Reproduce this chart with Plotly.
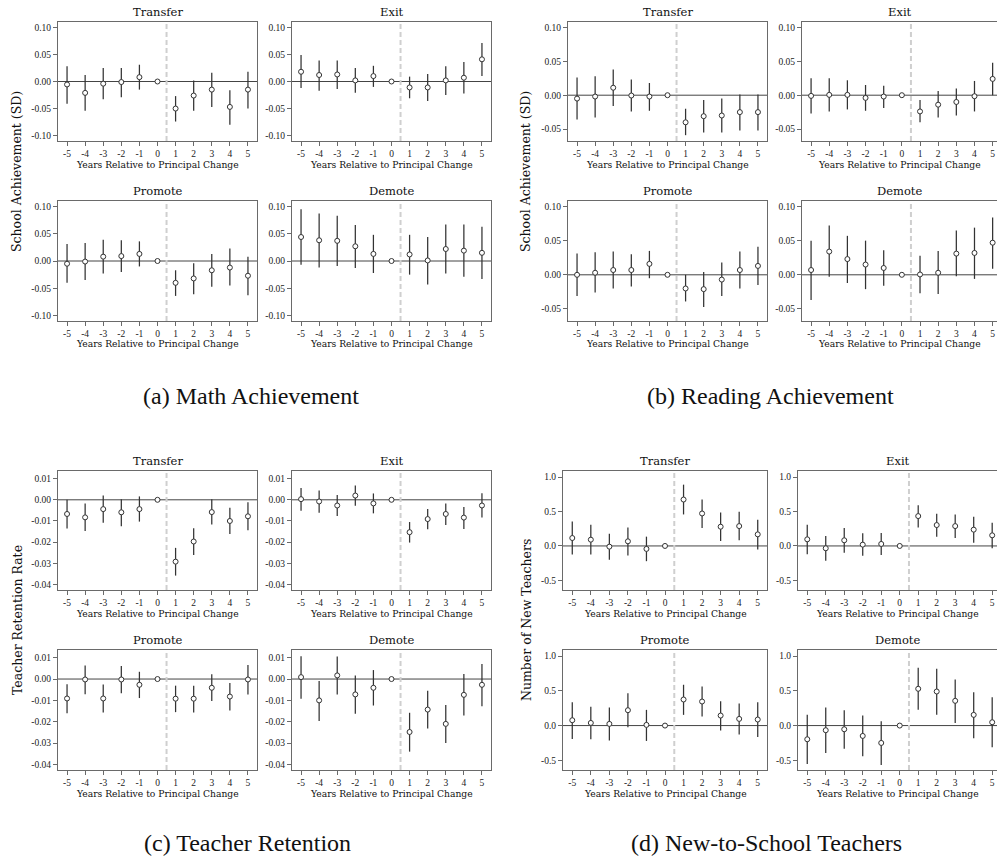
import plotly.graph_objects as go

W, H = 997, 862
years = [-5, -4, -3, -2, -1, 0, 1, 2, 3, 4, 5]
year_labels = [str(y) for y in years]

# ---------------- (a) Math achievement ----------------
math_transfer_est = [-0.0055, -0.021, -0.004, -0.001, 0.008, 0.0, -0.050, -0.026, -0.015, -0.047, -0.015]
math_transfer_hi = [0.028, 0.012, 0.025, 0.025, 0.031, 0.0, -0.027, 0.002, 0.016, -0.016, 0.018]
math_transfer_lo = [-0.041, -0.054, -0.033, -0.029, -0.015, 0.0, -0.074, -0.054, -0.047, -0.080, -0.050]

math_exit_est = [0.018, 0.012, 0.013, 0.002, 0.010, 0.0, -0.011, -0.011, 0.002, 0.007, 0.041]
math_exit_hi = [0.049, 0.039, 0.039, 0.025, 0.029, 0.0, 0.009, 0.014, 0.028, 0.036, 0.071]
math_exit_lo = [-0.012, -0.017, -0.014, -0.021, -0.010, 0.0, -0.031, -0.036, -0.025, -0.022, 0.010]

math_promote_est = [-0.005, -0.001, 0.008, 0.009, 0.013, 0.0, -0.040, -0.032, -0.017, -0.012, -0.027]
math_promote_hi = [0.031, 0.033, 0.039, 0.038, 0.036, 0.0, -0.017, -0.004, 0.013, 0.023, 0.008]
math_promote_lo = [-0.040, -0.035, -0.023, -0.020, -0.010, 0.0, -0.064, -0.061, -0.047, -0.045, -0.063]

math_demote_est = [0.044, 0.038, 0.037, 0.027, 0.013, 0.0, 0.012, 0.001, 0.022, 0.019, 0.015]
math_demote_hi = [0.095, 0.087, 0.083, 0.066, 0.048, 0.0, 0.048, 0.044, 0.067, 0.067, 0.063]
math_demote_lo = [-0.007, -0.012, -0.009, -0.013, -0.022, 0.0, -0.025, -0.043, -0.023, -0.029, -0.033]

# ---------------- (b) Reading achievement ----------------
read_transfer_est = [-0.005, -0.002, 0.011, -0.0005, -0.002, 0.0, -0.040, -0.031, -0.030, -0.025, -0.025]
read_transfer_hi = [0.026, 0.028, 0.038, 0.023, 0.018, 0.0, -0.020, -0.007, -0.005, 0.001, 0.001]
read_transfer_lo = [-0.036, -0.033, -0.016, -0.024, -0.023, 0.0, -0.059, -0.055, -0.055, -0.052, -0.052]

read_exit_est = [-0.001, 0.0005, 0.0005, -0.004, -0.002, 0.0, -0.024, -0.014, -0.010, -0.0015, 0.024]
read_exit_hi = [0.025, 0.025, 0.022, 0.015, 0.014, 0.0, -0.007, 0.006, 0.010, 0.021, 0.048]
read_exit_lo = [-0.027, -0.024, -0.021, -0.023, -0.019, 0.0, -0.040, -0.033, -0.030, -0.024, 0.000]

read_promote_est = [0.000, 0.003, 0.007, 0.007, 0.016, 0.0, -0.020, -0.021, -0.007, 0.007, 0.013]
read_promote_hi = [0.031, 0.033, 0.034, 0.030, 0.035, 0.0, 0.000, 0.004, 0.018, 0.034, 0.041]
read_promote_lo = [-0.031, -0.026, -0.020, -0.017, -0.005, 0.0, -0.039, -0.047, -0.031, -0.020, -0.015]

read_demote_est = [0.007, 0.034, 0.023, 0.015, 0.010, 0.0, 0.0005, 0.003, 0.031, 0.032, 0.047]
read_demote_hi = [0.050, 0.072, 0.057, 0.050, 0.036, 0.0, 0.028, 0.035, 0.065, 0.069, 0.084]
read_demote_lo = [-0.037, -0.003, -0.012, -0.021, -0.016, 0.0, -0.027, -0.028, -0.002, -0.006, 0.009]

# ---------------- (c) Teacher retention ----------------
ret_transfer_est = [-0.0067, -0.0083, -0.0044, -0.0059, -0.0044, 0.0, -0.0292, -0.0197, -0.0058, -0.0100, -0.0078]
ret_transfer_hi = [0.0000, -0.0017, 0.0020, 0.0003, 0.0016, 0.0, -0.0227, -0.0134, 0.0003, -0.0037, -0.0012]
ret_transfer_lo = [-0.0136, -0.0147, -0.0108, -0.0125, -0.0103, 0.0, -0.0358, -0.0261, -0.0117, -0.0161, -0.0144]

ret_exit_est = [0.0003, -0.0008, -0.0027, 0.0020, -0.0017, 0.0, -0.0153, -0.0091, -0.0067, -0.0084, -0.0027]
ret_exit_hi = [0.0056, 0.0044, 0.0023, 0.0067, 0.0030, 0.0, -0.0105, -0.0044, -0.0017, -0.0034, 0.0031]
ret_exit_lo = [-0.0052, -0.0061, -0.0077, -0.0028, -0.0064, 0.0, -0.0202, -0.0139, -0.0119, -0.0138, -0.0084]

ret_promote_est = [-0.0091, -0.0002, -0.0091, -0.0002, -0.0027, 0.0, -0.0092, -0.0092, -0.0041, -0.0082, -0.0002]
ret_promote_hi = [-0.0024, 0.0063, -0.0025, 0.0061, 0.0034, 0.0, -0.0031, -0.0031, 0.0022, -0.0019, 0.0066]
ret_promote_lo = [-0.0160, -0.0071, -0.0157, -0.0067, -0.0089, 0.0, -0.0155, -0.0157, -0.0103, -0.0147, -0.0072]

ret_demote_est = [0.0009, -0.0100, 0.0017, -0.0072, -0.0041, 0.0, -0.0248, -0.0143, -0.0210, -0.0074, -0.0027]
ret_demote_hi = [0.0107, -0.0009, 0.0105, 0.0016, 0.0042, 0.0, -0.0158, -0.0055, -0.0122, 0.0024, 0.0071]
ret_demote_lo = [-0.0092, -0.0196, -0.0072, -0.0163, -0.0124, 0.0, -0.0340, -0.0232, -0.0299, -0.0171, -0.0127]

# ---------------- (d) New-to-school teachers ----------------
new_transfer_est = [0.115, 0.091, -0.010, 0.067, -0.043, 0.0, 0.673, 0.471, 0.279, 0.288, 0.168]
new_transfer_hi = [0.356, 0.308, 0.178, 0.269, 0.135, 0.0, 0.889, 0.673, 0.486, 0.495, 0.380]
new_transfer_lo = [-0.125, -0.125, -0.202, -0.139, -0.221, 0.0, 0.457, 0.260, 0.072, 0.082, -0.053]

new_exit_est = [0.096, -0.034, 0.082, 0.019, 0.029, 0.0, 0.433, 0.303, 0.288, 0.236, 0.154]
new_exit_hi = [0.308, 0.144, 0.260, 0.183, 0.188, 0.0, 0.591, 0.466, 0.457, 0.423, 0.337]
new_exit_lo = [-0.120, -0.216, -0.100, -0.144, -0.130, 0.0, 0.269, 0.135, 0.115, 0.048, -0.034]

new_promote_est = [0.077, 0.038, 0.024, 0.221, 0.010, 0.0, 0.375, 0.346, 0.144, 0.096, 0.087]
new_promote_hi = [0.337, 0.269, 0.260, 0.466, 0.226, 0.0, 0.587, 0.563, 0.351, 0.317, 0.337]
new_promote_lo = [-0.192, -0.197, -0.216, -0.024, -0.221, 0.0, 0.154, 0.130, -0.072, -0.130, -0.163]

new_demote_est = [-0.197, -0.067, -0.053, -0.149, -0.250, 0.0, 0.529, 0.490, 0.356, 0.154, 0.048]
new_demote_hi = [0.154, 0.260, 0.221, 0.144, 0.063, 0.0, 0.832, 0.817, 0.663, 0.481, 0.409]
new_demote_lo = [-0.553, -0.394, -0.332, -0.442, -0.567, 0.0, 0.226, 0.154, 0.038, -0.183, -0.313]

# y-axis settings for each outcome
ach_math_ticks = [-0.10, -0.05, 0.0, 0.05, 0.10]
ach_math_labels = ["-0.10", "-0.05", "0.00", "0.05", "0.10"]
ach_read_ticks = [-0.05, 0.0, 0.05, 0.10]
ach_read_labels = ["-0.05", "0.00", "0.05", "0.10"]
ret_ticks = [-0.04, -0.03, -0.02, -0.01, 0.0, 0.01]
ret_labels = ["-0.04", "-0.03", "-0.02", "-0.01", "0.00", "0.01"]
new_ticks = [-0.5, 0.0, 0.5, 1.0]
new_labels = ["-0.5", "0.0", "0.5", "1.0"]

SERIF = "DejaVu Serif"
TICKFONT = dict(family="Liberation Serif", size=9.5, color="#222")
INK = "#333333"
FRAME = "#6a6a6a"

fig = go.Figure()
shapes = []
annotations = []
layout_axes = {}


def xdom(x0, x1):
    return [x0 / W, x1 / W]


def ydom(y0, y1):
    return [1 - y1 / H, 1 - y0 / H]


def add_panel(i, title, px, py, xrng, yrng, yticks, ylabels, est, hi, lo, right_frame=True):
    xa = "x" if i == 1 else f"x{i}"
    ya = "y" if i == 1 else f"y{i}"
    fig.add_trace(go.Scatter(
        x=years, y=est, mode="markers", showlegend=False, xaxis=xa, yaxis=ya,
        marker=dict(symbol="circle", size=5, color="white", line=dict(color=INK, width=1)),
        error_y=dict(type="data", symmetric=False,
                     array=[h - e for h, e in zip(hi, est)],
                     arrayminus=[e - l for e, l in zip(est, lo)],
                     color=INK, thickness=1.25, width=0),
        cliponaxis=False,
    ))
    layout_axes["xaxis" if i == 1 else f"xaxis{i}"] = dict(
        domain=xdom(*px), range=xrng, anchor=ya, tickvals=years, ticktext=year_labels,
        ticks="outside", ticklen=4, tickcolor=FRAME, tickwidth=1, tickfont=TICKFONT,
        showline=True, linecolor=FRAME, linewidth=1, mirror=True,
        showgrid=False, zeroline=False, fixedrange=True,
    )
    layout_axes["yaxis" if i == 1 else f"yaxis{i}"] = dict(
        domain=ydom(*py), range=yrng, anchor=xa, tickvals=yticks, ticktext=ylabels,
        ticks="outside", ticklen=4, tickcolor=FRAME, tickwidth=1, tickfont=TICKFONT,
        showline=True, linecolor=FRAME, linewidth=1, mirror=right_frame,
        showgrid=False, zeroline=False, fixedrange=True,
    )
    # zero reference line
    shapes.append(dict(type="line", xref=f"{xa} domain", yref=ya, x0=0, x1=1, y0=0, y1=0,
                       line=dict(color="#444444", width=1), layer="below"))
    # principal change marker between year 0 and year 1
    shapes.append(dict(type="line", xref=xa, yref=f"{ya} domain", x0=0.5, x1=0.5, y0=0, y1=1,
                       line=dict(color="#cfcfcf", width=2, dash="5px,3px"), layer="below"))
    cx = (px[0] + px[1]) / 2 / W
    annotations.append(dict(text=title, x=cx, y=1 - (py[0] - 10) / H, xref="paper", yref="paper",
                            xanchor="center", yanchor="middle", showarrow=False,
                            font=dict(family=SERIF, size=11.5, color="#111")))
    annotations.append(dict(text="Years Relative to Principal Change", x=cx, y=1 - (py[1] + 23) / H,
                            xref="paper", yref="paper", xanchor="center", yanchor="middle",
                            showarrow=False, font=dict(family=SERIF, size=9.2, color="#111")))


X_FULL = [-5.5, 5.5]
cols_ac = [(58, 257), (292, 491)]
cols_b = [(568, 767), (802, 997)]
cols_d = [(563, 767), (798, 997)]
rows_top = [(22, 141), (201, 321)]
rows_bot = [(471, 590), (650, 770)]

groups = [
    (cols_ac, rows_top, [X_FULL, X_FULL], [-0.11, 0.11], ach_math_ticks, ach_math_labels, [
        (math_transfer_est, math_transfer_hi, math_transfer_lo),
        (math_exit_est, math_exit_hi, math_exit_lo),
        (math_promote_est, math_promote_hi, math_promote_lo),
        (math_demote_est, math_demote_hi, math_demote_lo)], True),
    (cols_b, rows_top, [X_FULL, [-5.5, 5.24]], [-0.0676, 0.108], ach_read_ticks, ach_read_labels, [
        (read_transfer_est, read_transfer_hi, read_transfer_lo),
        (read_exit_est, read_exit_hi, read_exit_lo),
        (read_promote_est, read_promote_hi, read_promote_lo),
        (read_demote_est, read_demote_hi, read_demote_lo)], False),
    (cols_ac, rows_bot, [X_FULL, X_FULL], [-0.0426, 0.0136], ret_ticks, ret_labels, [
        (ret_transfer_est, ret_transfer_hi, ret_transfer_lo),
        (ret_exit_est, ret_exit_hi, ret_exit_lo),
        (ret_promote_est, ret_promote_hi, ret_promote_lo),
        (ret_demote_est, ret_demote_hi, ret_demote_lo)], True),
    (cols_d, rows_bot, [X_FULL, [-5.5, 5.26]], [-0.639, 1.087], new_ticks, new_labels, [
        (new_transfer_est, new_transfer_hi, new_transfer_lo),
        (new_exit_est, new_exit_hi, new_exit_lo),
        (new_promote_est, new_promote_hi, new_promote_lo),
        (new_demote_est, new_demote_hi, new_demote_lo)], False),
]
panel_titles = ["Transfer", "Exit", "Promote", "Demote"]

idx = 1
for cols, rows, xrngs, yrng, yt, yl, series, full_right in groups:
    for k in range(4):
        c, r = k % 2, k // 2
        est, hi, lo = series[k]
        add_panel(idx, panel_titles[k], cols[c], rows[r], xrngs[c], yrng, yt, yl, est, hi, lo,
                  right_frame=(full_right or c == 0))
        idx += 1

# outcome labels on the left of each block
y_titles = [
    ("School Achievement (SD)", 17, 172),
    ("School Achievement (SD)", 526, 172),
    ("Teacher Retention Rate", 17, 620),
    ("Number of New Teachers", 526, 620),
]
for text, x, y in y_titles:
    annotations.append(dict(text=text, x=x / W, y=1 - y / H, xref="paper", yref="paper",
                            textangle=-90, xanchor="center", yanchor="middle", showarrow=False,
                            font=dict(family=SERIF, size=12.5, color="#111")))

captions = [
    ("(a) Math Achievement", 251, 396),
    ("(b) Reading Achievement", 770, 396),
    ("(c) Teacher Retention", 247, 843),
    ("(d) New-to-School Teachers", 766, 843),
]
for text, x, y in captions:
    annotations.append(dict(text=text, x=x / W, y=1 - y / H, xref="paper", yref="paper",
                            xanchor="center", yanchor="middle", showarrow=False,
                            font=dict(family="Liberation Serif", size=24, color="#111")))

fig.update_layout(
    width=W, height=H, margin=dict(l=0, r=0, t=0, b=0),
    paper_bgcolor="white", plot_bgcolor="white",
    shapes=shapes, annotations=annotations, **layout_axes,
)

fig.write_html("out.html", config={"displayModeBar": False})
